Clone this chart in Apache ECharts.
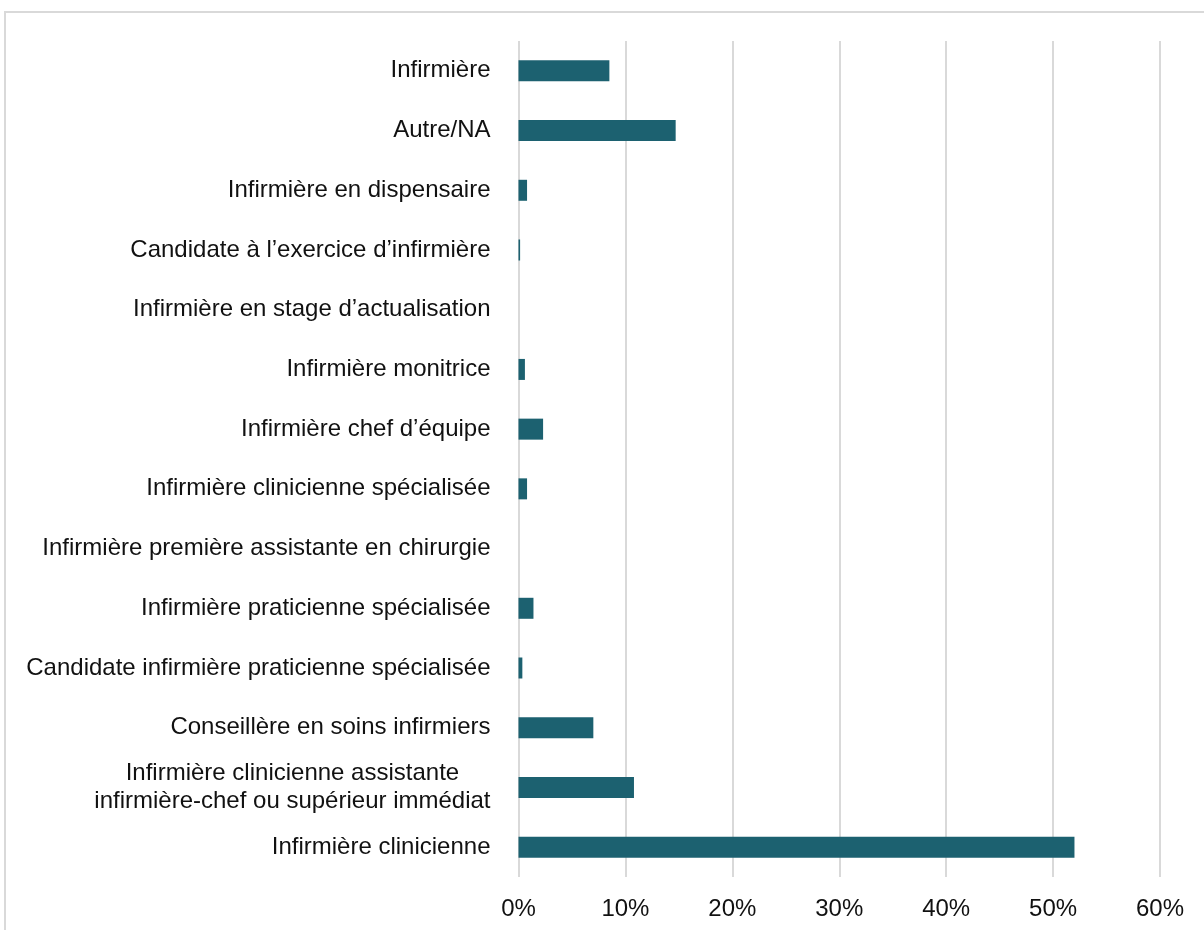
<!DOCTYPE html>
<html>
<head>
<meta charset="utf-8">
<script src="https://cdn.jsdelivr.net/npm/echarts@6/dist/echarts.min.js"></script>
<style>
  html, body { margin: 0; padding: 0; background: #fff; }
  #chart { width: 1204px; height: 930px; }
</style>
</head>
<body>
<div id="chart"></div>
<script>
// Job titles, listed top to bottom
const categories = [
  'Infirmière',
  'Autre/NA',
  'Infirmière en dispensaire',
  'Candidate à l’exercice d’infirmière',
  'Infirmière en stage d’actualisation',
  'Infirmière monitrice',
  'Infirmière chef d’équipe',
  'Infirmière clinicienne spécialisée',
  'Infirmière première assistante en chirurgie',
  'Infirmière praticienne spécialisée',
  'Candidate infirmière praticienne spécialisée',
  'Conseillère en soins infirmiers',
  'Infirmière clinicienne assistante\ninfirmière-chef ou supérieur immédiat',
  'Infirmière clinicienne'
];

// Share of respondents (%)
const shares = [8.5, 14.7, 0.8, 0.15, 0, 0.6, 2.3, 0.8, 0, 1.4, 0.36, 7.0, 10.8, 52.0];

// Percent axis ticks
const axisMin = 0;
const axisMax = 60;
const axisStep = 10;

const FONT = '"Liberation Sans", Arial, sans-serif';
const TEXT = '#111111';

const chart = echarts.init(document.getElementById('chart'), null, { renderer: 'canvas' });

chart.setOption({
  animation: false,
  backgroundColor: '#ffffff',
  graphic: [{
    type: 'rect',
    shape: { x: 5, y: 12, width: 1400, height: 1100 },
    style: { fill: 'none', stroke: '#d9d9d9', lineWidth: 2 },
    silent: true
  }],
  grid: { left: 518.5, right: 44, top: 41, bottom: 53, containLabel: false },
  xAxis: {
    type: 'value',
    min: axisMin,
    max: axisMax,
    interval: axisStep,
    axisLine: { show: false },
    axisTick: { show: false },
    splitLine: { show: true, lineStyle: { color: '#d9d9d9', width: 2 } },
    axisLabel: {
      formatter: v => v + '%',
      color: TEXT,
      fontFamily: FONT,
      fontSize: 24,
      margin: 20
    }
  },
  yAxis: {
    type: 'category',
    data: categories,
    inverse: true,
    axisLine: { show: false },
    axisTick: { show: false },
    axisLabel: {
      color: TEXT,
      fontFamily: FONT,
      fontSize: 24,
      margin: 28,
      lineHeight: 28,
      formatter: v => v.split('\n').map(s => '{c|' + s + '}').join('\n'),
      rich: {
        c: { align: 'center', fontFamily: FONT, fontSize: 24, color: TEXT, lineHeight: 28 }
      }
    }
  },
  series: [{
    type: 'bar',
    data: shares,
    barWidth: 21,
    itemStyle: { color: '#1c6170' }
  }]
});
</script>
</body>
</html>
